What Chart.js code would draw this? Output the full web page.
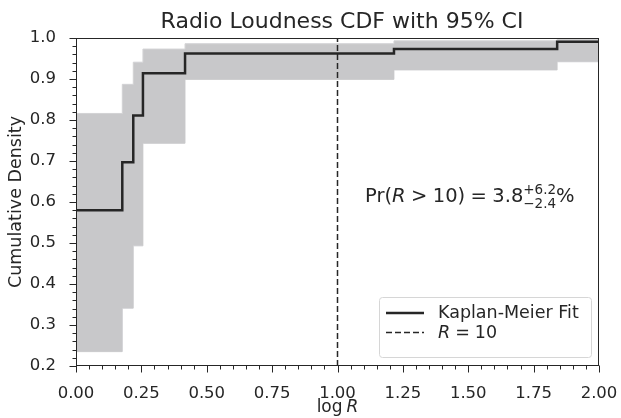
<!DOCTYPE html>
<html>
<head>
<meta charset="utf-8">
<script src="https://cdn.jsdelivr.net/npm/chart.js@4/dist/chart.umd.min.js"></script>
<style>
  html, body { margin: 0; padding: 0; background: #fff; }
</style>
</head>
<body>
<canvas id="cdf" width="621" height="418"></canvas>
<script>
// Kaplan-Meier step positions (log R) and the CDF with its 95% band
const stepX = [0, 0.177, 0.219, 0.256, 0.417, 1.216, 1.84, 2.0];
const kmY = [0.58, 0.697, 0.811, 0.914, 0.962, 0.973, 0.991, 0.991];
const ciHigh = [0.816, 0.887, 0.941, 0.973, 0.986, 0.993, 0.997, 0.997];
const ciLow = [0.235, 0.341, 0.493, 0.743, 0.899, 0.922, 0.942, 0.942];
const refLogR = 1.0;
const xRange = [0, 2];
const yRange = [0.2, 1.0];
const prob = {value: '3.8', plus: '+6.2', minus: '\u22122.4'};

const FONT = '"DejaVu Sans", sans-serif';
const INK = '#262626';
const f = (size, style) => (style ? style + ' ' : '') + size + 'px ' + FONT;

const toPoints = ys => stepX.map((x, i) => ({x: x, y: ys[i]}));

// write a run of text pieces, each with its own font, returns the end x
function drawRich(ctx, x, y, pieces) {
    pieces.forEach(p => {
        ctx.font = p.font;
        x += p.gap || 0;
        ctx.fillText(p.t, x, y);
        x += ctx.measureText(p.t).width;
    });
    return x;
}

// frame, ticks, title, annotation, axis labels and legend
const extras = {
    id: 'extras',
    afterDraw(chart) {
        const {ctx, chartArea: a, scales: {x, y}} = chart;
        const L = Math.round(a.left) + 0.5, R = Math.round(a.right) - 0.5;
        const T = Math.round(a.top) + 0.5, B = Math.round(a.bottom) - 0.5;
        ctx.save();
        ctx.strokeStyle = INK;
        ctx.lineWidth = 1;
        ctx.strokeRect(L, T, R - L, B - T);

        ctx.beginPath();
        for (let i = 0; i <= 40; i++) {
            const px = Math.round(x.getPixelForValue(i * 0.05)) + 0.5;
            const len = i % 5 === 0 ? 7 : 4;
            ctx.moveTo(px, B);
            ctx.lineTo(px, B + len);
        }
        for (let i = 0; i <= 40; i++) {
            const py = Math.round(y.getPixelForValue(yRange[0] + i * 0.02)) + 0.5;
            const len = i % 5 === 0 ? 7 : 4;
            ctx.moveTo(L, py);
            ctx.lineTo(L - len, py);
        }
        ctx.stroke();

        ctx.fillStyle = INK;
        ctx.textBaseline = 'alphabetic';

        // title
        ctx.textAlign = 'center';
        ctx.font = f(22);
        ctx.fillText('Radio Loudness CDF with 95% CI', 342, 28);
        ctx.textAlign = 'left';

        // probability annotation
        const big = f(19.5), ty = 202, gap = 5.4;
        let tx = drawRich(ctx, 365, ty, [
            {t: 'Pr(', font: big},
            {t: 'R', font: f(19.5, 'italic')},
            {t: '>', font: big, gap: gap},
            {t: '10)', font: big, gap: gap},
            {t: '=', font: big, gap: gap},
            {t: prob.value, font: big, gap: gap}
        ]);
        ctx.font = f(13.5);
        const w = Math.max(ctx.measureText(prob.plus).width, ctx.measureText(prob.minus).width);
        ctx.fillText(prob.plus, tx, ty - 8.5);
        ctx.fillText(prob.minus, tx, ty + 5.5);
        ctx.font = big;
        ctx.fillText('%', tx + w, ty);

        // x axis label: log R
        ctx.font = f(17);
        const lw = ctx.measureText('log').width + 4;
        ctx.font = f(17, 'italic');
        const rw = ctx.measureText('R').width;
        drawRich(ctx, (a.left + a.right) / 2 - (lw + rw) / 2, 412, [
            {t: 'log', font: f(17)},
            {t: 'R', font: f(17, 'italic'), gap: 4}
        ]);

        // y axis label
        ctx.save();
        ctx.translate(16, (a.top + a.bottom) / 2);
        ctx.rotate(-Math.PI / 2);
        ctx.textAlign = 'center';
        ctx.textBaseline = 'middle';
        ctx.font = f(17.5);
        ctx.fillText('Cumulative Density', 0, 0);
        ctx.restore();

        // legend box
        const bx = 379.5, by = 297.5, bw = 212, bh = 60;
        ctx.beginPath();
        ctx.roundRect(bx, by, bw, bh, 3);
        ctx.fillStyle = 'rgba(255,255,255,0.85)';
        ctx.fill();
        ctx.strokeStyle = '#d6d6d6';
        ctx.stroke();

        const km = chart.data.datasets[0], ref = chart.data.datasets[1];
        ctx.strokeStyle = km.borderColor;
        ctx.lineWidth = km.borderWidth;
        ctx.beginPath();
        ctx.moveTo(386, 313);
        ctx.lineTo(424, 313);
        ctx.stroke();
        ctx.lineWidth = ref.borderWidth;
        ctx.setLineDash(ref.borderDash);
        ctx.beginPath();
        ctx.moveTo(386, 332.5);
        ctx.lineTo(424, 332.5);
        ctx.stroke();
        ctx.setLineDash([]);

        ctx.fillStyle = INK;
        ctx.textBaseline = 'middle';
        ctx.font = f(17.5);
        ctx.fillText(km.label, 438, 313);
        drawRich(ctx, 438, 333, [
            {t: 'R', font: f(17.5, 'italic')},
            {t: '=', font: f(17.5), gap: 5},
            {t: '10', font: f(17.5), gap: 5}
        ]);
        ctx.restore();
    }
};

new Chart(document.getElementById('cdf'), {
    type: 'line',
    data: {
        datasets: [
            {
                label: 'Kaplan-Meier Fit',
                data: toPoints(kmY),
                stepped: 'before',
                borderColor: INK,
                borderWidth: 2.5,
                pointRadius: 0,
                fill: false
            },
            {
                label: 'R = 10',
                data: [{x: refLogR, y: yRange[0]}, {x: refLogR, y: yRange[1]}],
                borderColor: INK,
                borderWidth: 1.5,
                borderDash: [6, 3],
                pointRadius: 0,
                fill: false
            },
            {
                label: 'CI upper',
                data: toPoints(ciHigh),
                stepped: 'before',
                borderColor: '#d3d3d5',
                borderWidth: 1,
                backgroundColor: '#c8c8ca',
                pointRadius: 0,
                fill: 3
            },
            {
                label: 'CI lower',
                data: toPoints(ciLow),
                stepped: 'before',
                borderColor: '#d3d3d5',
                borderWidth: 1,
                pointRadius: 0,
                fill: false
            }
        ]
    },
    options: {
        responsive: false,
        animation: false,
        layout: {padding: {left: 0, right: 22, top: 38, bottom: 0}},
        plugins: {
            legend: {display: false},
            tooltip: {enabled: false},
            title: {display: false}
        },
        scales: {
            x: {
                type: 'linear',
                min: xRange[0],
                max: xRange[1],
                grid: {display: false},
                border: {display: false},
                ticks: {
                    stepSize: 0.25,
                    autoSkip: false,
                    maxRotation: 0,
                    padding: 10,
                    color: INK,
                    font: {family: FONT, size: 16.5},
                    callback: v => v.toFixed(2)
                },
                afterFit(scale) {
                    scale.height = 52;
                    scale.paddingLeft = 0;
                    scale.paddingRight = 0;
                }
            },
            y: {
                min: yRange[0],
                max: yRange[1],
                grid: {display: false},
                border: {display: false},
                ticks: {
                    stepSize: 0.1,
                    padding: 12,
                    color: INK,
                    font: {family: FONT, size: 16.5},
                    callback: v => v.toFixed(1)
                },
                afterFit(scale) {
                    scale.width = 76;
                    scale.paddingTop = 0;
                    scale.paddingBottom = 0;
                }
            }
        }
    },
    plugins: [extras]
});
</script>
</body>
</html>
